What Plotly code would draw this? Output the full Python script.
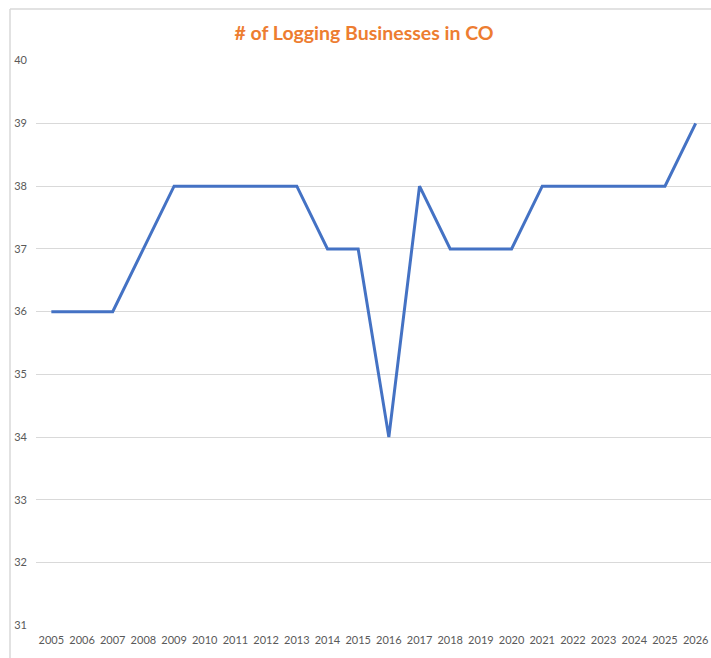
import plotly.graph_objects as go

years = list(range(2005, 2027))
businesses = [36, 36, 36, 37, 38, 38, 38, 38, 38, 37, 37, 34, 38, 37, 37, 37, 38, 38, 38, 38, 38, 39]
y_ticks = list(range(31, 41))

L, T, W, H = 36, 60, 711, 658
B = 626
pw = W - L
ph = B - T

def px(x):
    return (x - L) / pw

def py(y):
    return (B - y) / ph

fig = go.Figure()
fig.add_trace(go.Scatter(
    x=years, y=businesses, mode="lines",
    line=dict(color="#4472C4", width=3),
    hoverinfo="x+y",
))

fig.update_layout(
    width=W, height=H,
    margin=dict(l=L, r=0, t=T, b=H - B),
    paper_bgcolor="white", plot_bgcolor="white",
    showlegend=False,
    font=dict(family="Lato, 'Open Sans', sans-serif", color="#595959"),
    title=dict(
        text="<b># of Logging Businesses in CO</b>",
        font=dict(family="Lato, 'Open Sans', sans-serif", size=19.5, color="#ED7D31"),
        x=px(364), xref="paper", xanchor="center",
        y=1 - 33 / H, yref="container", yanchor="middle",
    ),
    xaxis=dict(
        range=[2004.5, 2026.5],
        tickmode="array", tickvals=years, ticktext=[str(y) for y in years],
        showgrid=False, zeroline=False, showline=False, ticks="",
        ticklabelstandoff=6,
        tickfont=dict(size=11, color="#595959"),
        fixedrange=True,
    ),
    yaxis=dict(
        range=[30.99, 40.01],
        tickmode="array", tickvals=y_ticks, ticktext=[str(v) for v in y_ticks],
        showgrid=True, gridcolor="#D9D9D9", gridwidth=1,
        zeroline=False, showline=False, ticks="",
        ticklabelstandoff=8,
        tickfont=dict(size=11, color="#595959"),
        fixedrange=True,
    ),
    shapes=[
        dict(type="line", xref="paper", yref="paper",
             x0=px(10), x1=px(10), y0=py(9), y1=py(H + 5),
             line=dict(color="#D9D9D9", width=1.5)),
        dict(type="line", xref="paper", yref="paper",
             x0=px(10), x1=px(W + 5), y0=py(9), y1=py(9),
             line=dict(color="#D9D9D9", width=1.5)),
    ],
)

fig.write_html(
    "out.html",
    config={"displayModeBar": False},
    post_script="document.body.style.margin='0';document.body.style.overflow='hidden';",
)
